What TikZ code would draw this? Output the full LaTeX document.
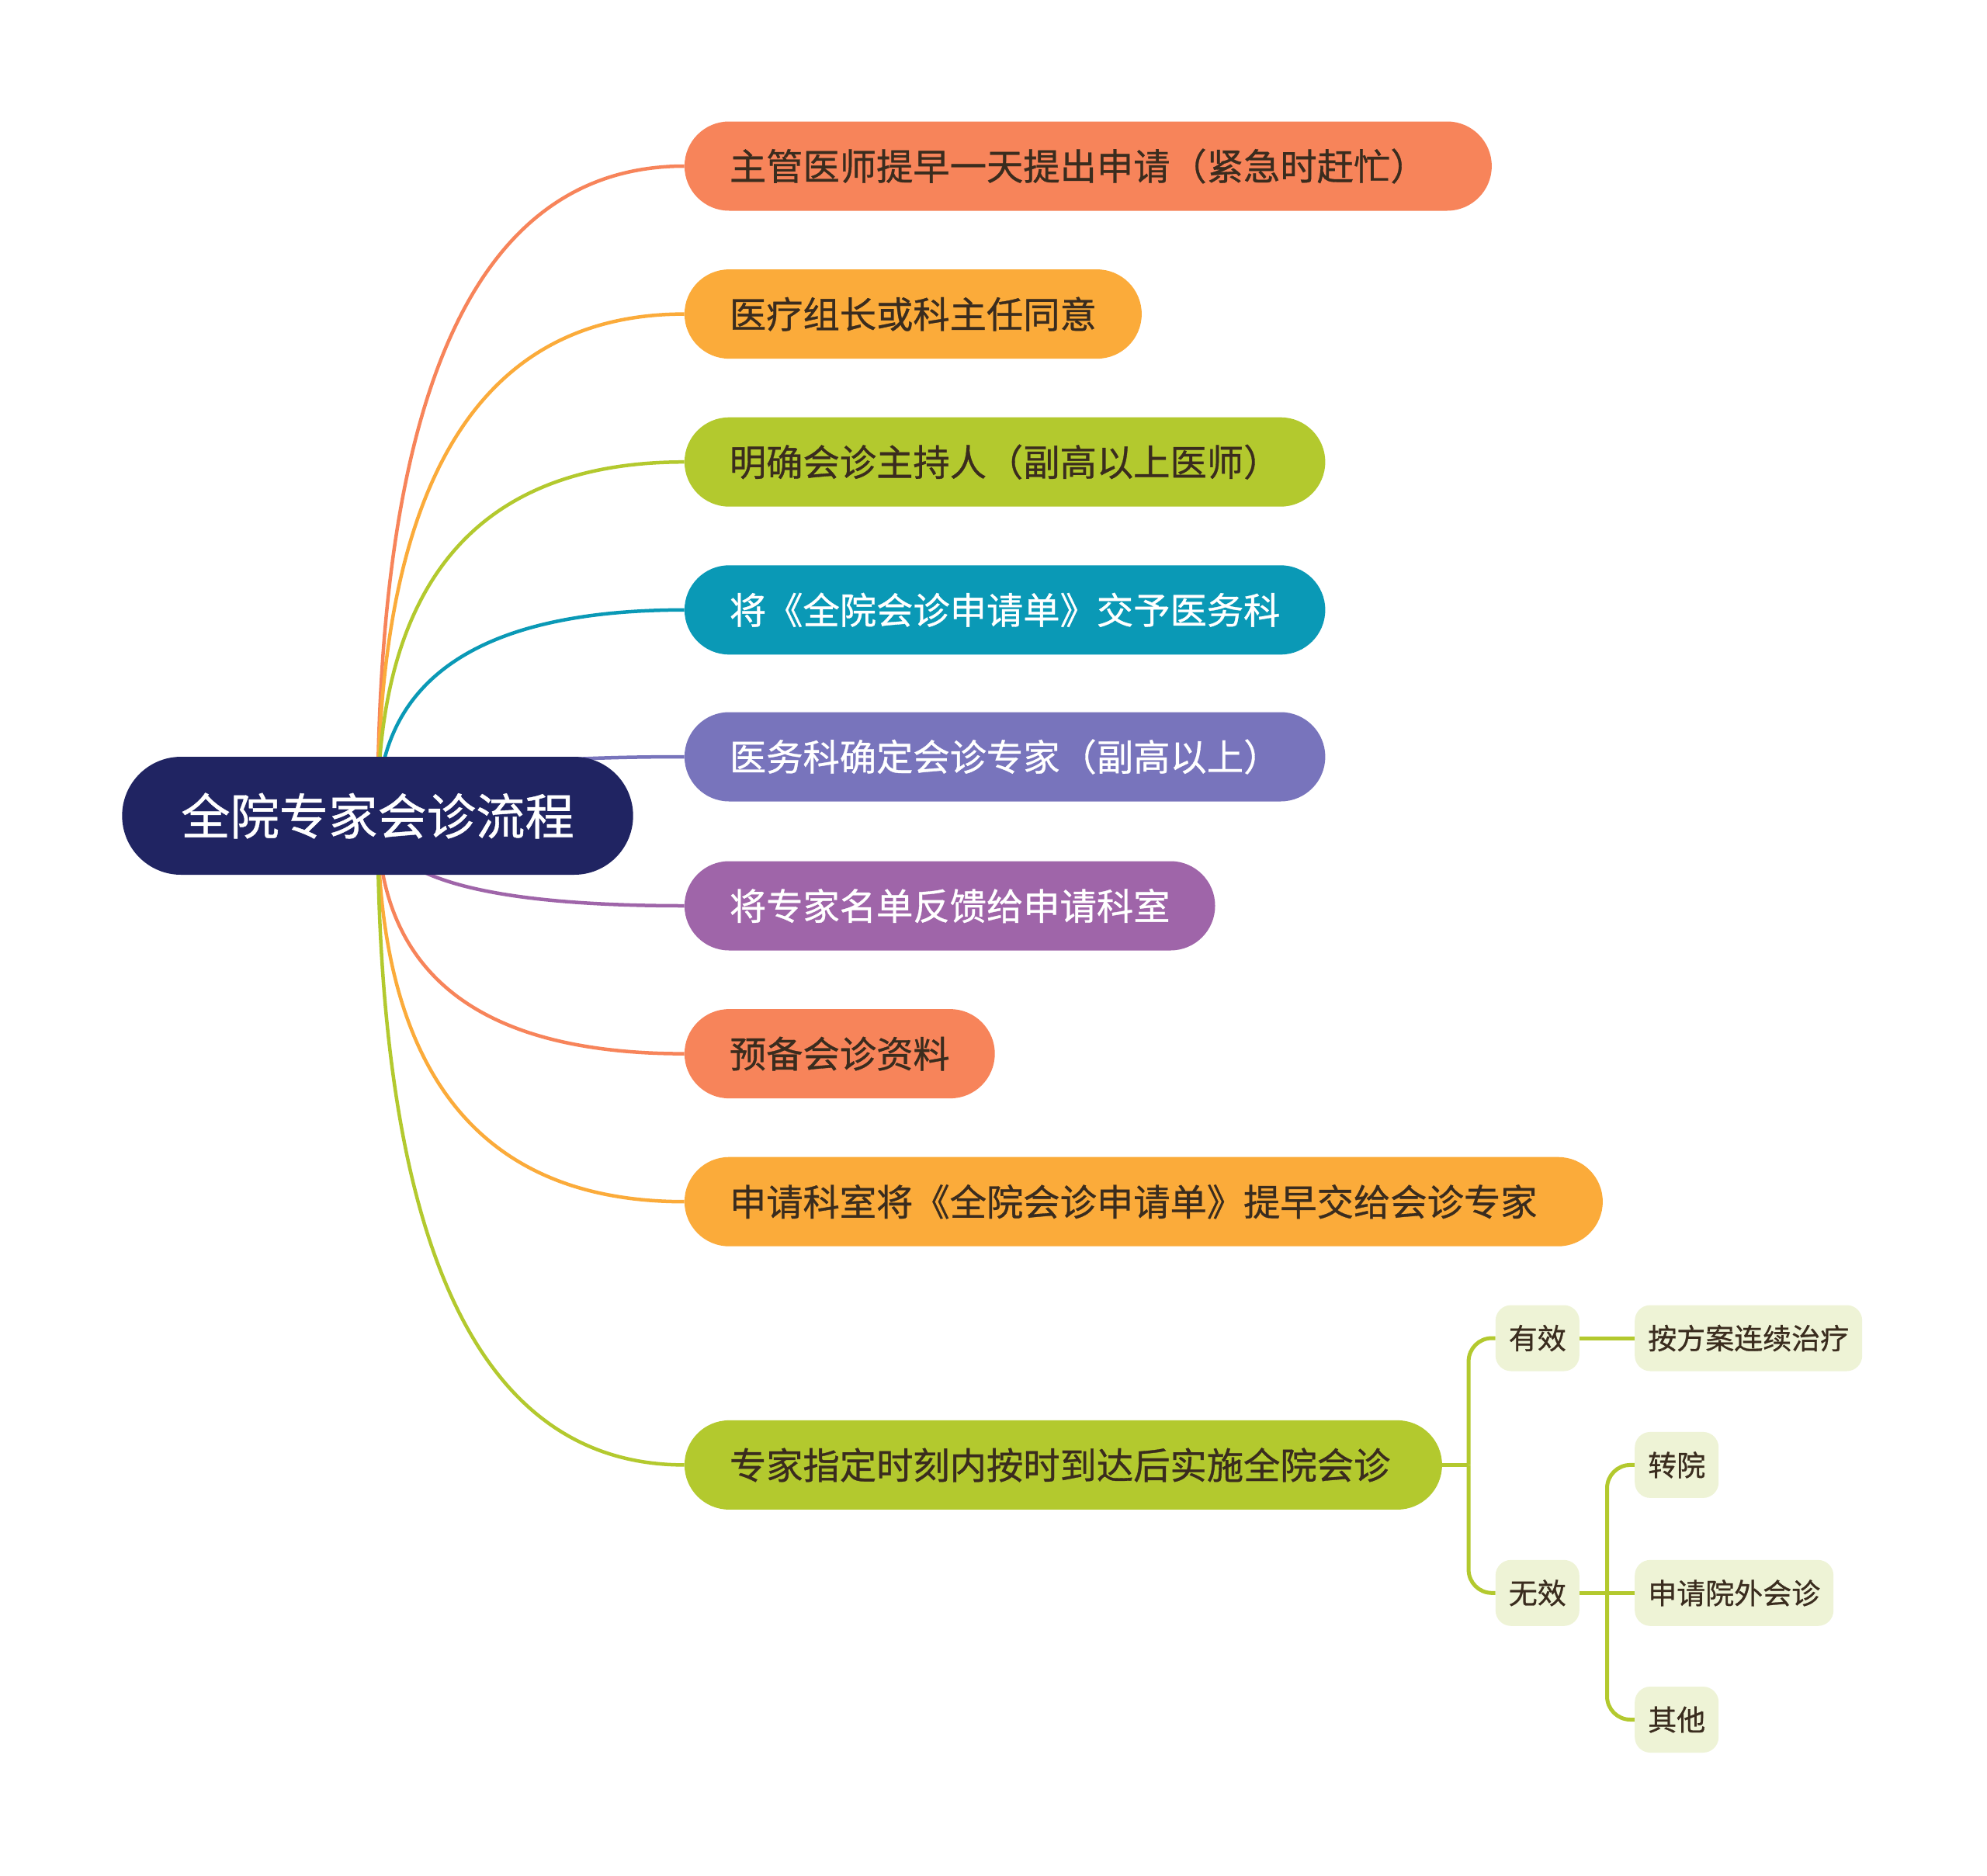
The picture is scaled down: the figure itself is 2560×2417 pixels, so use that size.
\documentclass[tikz,border=0pt]{standalone}
\usepackage{fontspec}
\setmainfont[FakeBold=0.7]{Noto Sans CJK SC}
\usetikzlibrary{calc}
\pgfdeclarelayer{back}
\pgfdeclarelayer{bg}
\pgfsetlayers{back,bg,main}
\definecolor{cOr}{HTML}{F7845A}
\definecolor{cYe}{HTML}{FBAB3A}
\definecolor{cGr}{HTML}{B3C92E}
\definecolor{cTe}{HTML}{0A99B6}
\definecolor{cBp}{HTML}{7874BC}
\definecolor{cPu}{HTML}{9F65A9}
\definecolor{cRoot}{HTML}{202462}
\definecolor{cSub}{HTML}{EEF3D6}
\definecolor{cDark}{HTML}{3A2C1E}
\newcommand{\branchline}[2]{%
  \path (root.center |- #2.west) coordinate (k#2);
  \draw[conn=#1] (root.center) .. controls ($(root.center)!0.6667!(k#2)$) and ($(#2.west)!0.6667!(k#2)$) .. (#2.west);}
\begin{document}
\begin{tikzpicture}[x=1pt,y=-1pt,
  rootbox/.style={fill=cRoot, text=white, rounded corners=76pt, minimum height=152pt, inner xsep=76pt, inner ysep=0pt, font=\fontsize{63.3}{70}\selectfont},
  br/.style={fill=#1, rounded corners=57.5pt, minimum height=115pt, inner xsep=58pt, inner ysep=0pt, anchor=west, text=cDark, font=\fontsize{47.3}{52}\selectfont},
  light/.style={text=white},
  subbox/.style={fill=cSub, rounded corners=20pt, minimum height=85pt, inner xsep=17pt, inner ysep=0pt, anchor=west, text=cDark, font=\fontsize{37}{40}\selectfont},
  conn/.style={line width=4.5pt, draw=#1},
  subconn/.style={line width=5pt, draw=cGr},
]
\useasboundingbox (0,0) rectangle (2560,2417);
\begin{pgfonlayer}{back}
\fill[white] (0,0) rectangle (2560,2417);
\end{pgfonlayer}

\node[rootbox] (root) at (486.5,1051) {全院专家会诊流程};

\node[br=cOr, text width=924pt] (n1) at (881.7,214) {主管医师提早一天提出申请（紧急时赶忙）};
\node[br=cYe] (n2) at (881.7,404.6) {医疗组长或科主任同意};
\node[br=cGr] (n3) at (881.7,595.2) {明确会诊主持人（副高以上医师）};
\node[br=cTe, light] (n4) at (881.7,785.8) {将《全院会诊申请单》交予医务科};
\node[br=cBp, light] (n5) at (881.7,975) {医务科确定会诊专家（副高以上）};
\node[br=cPu, light] (n6) at (881.7,1167) {将专家名单反馈给申请科室};
\node[br=cOr] (n7) at (881.7,1357.6) {预备会诊资料};
\node[br=cYe, text width=1067pt] (n8) at (881.7,1548.2) {申请科室将《全院会诊申请单》提早交给会诊专家};
\node[br=cGr, text width=860pt] (n9) at (881.7,1887.4) {专家指定时刻内按时到达后实施全院会诊};

\node[subbox] (yx) at (1926.6,1724) {有效};
\node[subbox] (wx) at (1926.6,2052.3) {无效};
\node[subbox] (az) at (2106,1724) {按方案连续治疗};
\node[subbox] (zy) at (2106,1887.4) {转院};
\node[subbox] (sq) at (2106,2052.3) {申请院外会诊};
\node[subbox] (qt) at (2106,2215.5) {其他};

\begin{pgfonlayer}{bg}
\branchline{cOr}{n1}
\branchline{cYe}{n2}
\branchline{cGr}{n3}
\branchline{cTe}{n4}
\branchline{cBp}{n5}
\branchline{cPu}{n6}
\branchline{cOr}{n7}
\branchline{cYe}{n8}
\branchline{cGr}{n9}

\coordinate (j1) at ($(n9.east)+(34,0)$);
\coordinate (j2) at ($(wx.east)!0.5!(sq.west)$);
\draw[subconn] (n9.east) -- (j1);
\draw[subconn, rounded corners=30pt] (j1) |- (yx.west);
\draw[subconn, rounded corners=30pt] (j1) |- (wx.west);
\draw[subconn] (yx.east) -- (az.west);
\draw[subconn] (wx.east) -- (sq.west);
\draw[subconn, rounded corners=30pt] (j2) |- (zy.west);
\draw[subconn, rounded corners=30pt] (j2) |- (qt.west);
\end{pgfonlayer}
\end{tikzpicture}
\end{document}
